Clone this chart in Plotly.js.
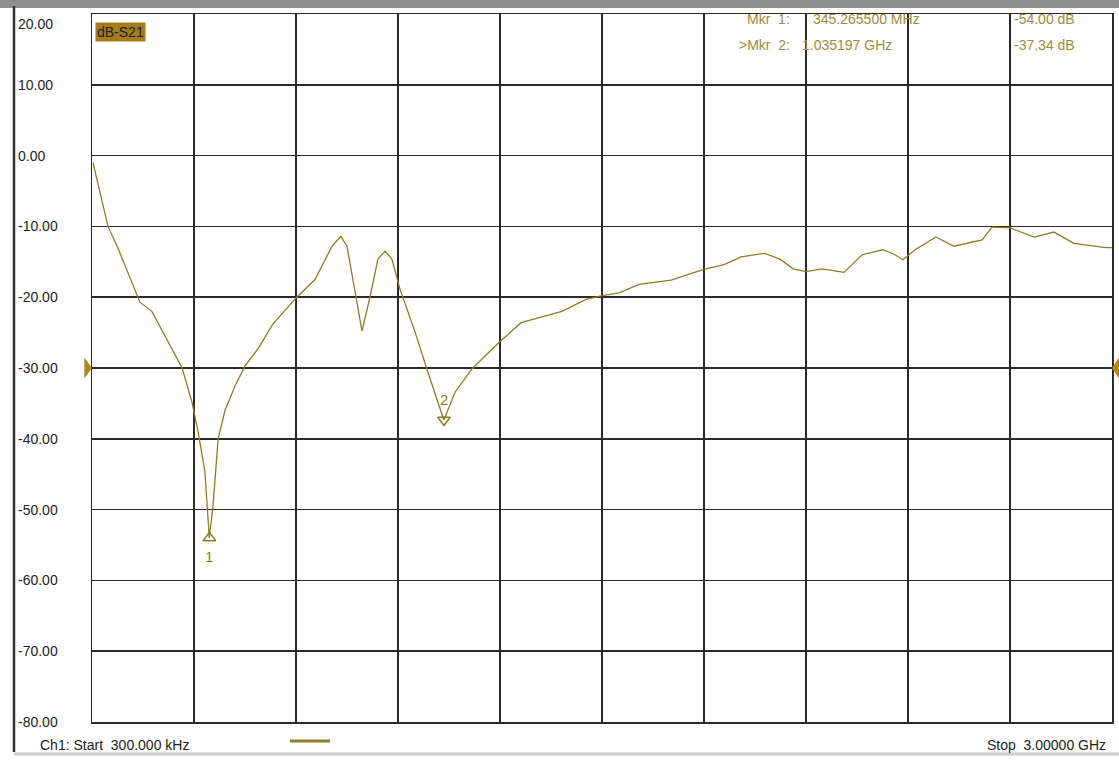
<!DOCTYPE html>
<html><head><meta charset="utf-8">
<script src="https://cdn.plot.ly/plotly-3.0.1.min.js"></script>
<style>html,body{margin:0;padding:0;background:#fff}</style>
</head><body><div id="c" style="width:1119px;height:763px"></div>
<script>
const freqGHz = [0.003,0.047,0.074,0.141,0.176,0.215,0.265,0.294,0.312,0.332,0.345,0.356,0.371,0.391,0.421,0.45,0.488,0.532,0.6,0.656,0.706,0.732,0.75,0.774,0.794,0.818,0.841,0.862,0.882,0.906,0.95,0.988,1.035,1.068,1.118,1.156,1.197,1.262,1.312,1.382,1.453,1.497,1.55,1.609,1.703,1.797,1.859,1.909,1.979,2.026,2.062,2.1,2.147,2.212,2.265,2.326,2.362,2.385,2.421,2.482,2.535,2.618,2.647,2.7,2.771,2.829,2.888,2.982,3.0];
const s21dB = [-1,-10,-12.8,-20.7,-22,-25.5,-30,-34.8,-39,-44.6,-54,-49.4,-40,-36,-32.5,-29.7,-27.3,-23.8,-20.1,-17.5,-12.8,-11.4,-12.8,-19.3,-24.8,-19.9,-14.6,-13.5,-14.6,-18.9,-24.9,-30.6,-37.34,-33.4,-30.1,-28.3,-26.4,-23.6,-22.9,-22,-20.3,-19.8,-19.4,-18.2,-17.6,-16.1,-15.4,-14.3,-13.8,-14.7,-16,-16.4,-16,-16.5,-14,-13.3,-14,-14.7,-13.3,-11.5,-12.8,-11.9,-10.1,-10.2,-11.5,-10.8,-12.4,-13,-13];
const markerFreq = [0.3452655, 1.035197];
const markerDB = [-54.00, -37.34];
const yTicks = [20,10,0,-10,-20,-30,-40,-50,-60,-70,-80];

const col = '#8f7d22';
const txt = '#a08c3a';
const F = 'Liberation Sans, Arial';
const px = p => (p-92)/1020;
const py = p => 1-(p-14)/708;
const ann = yTicks.map(v => ({
  xref:'paper', yref:'y', x:px(16), y:v, xanchor:'left', yanchor: v===20?'top':'middle',
  text:v.toFixed(2), showarrow:false, font:{family:F, size:14, color:'#222'}
}));
ann.push({xref:'paper',yref:'paper',x:px(95),y:py(22),xanchor:'left',yanchor:'top',text:'dB-S21',showarrow:false,
  bgcolor:'#a57c1b',font:{family:F,size:14,color:'#222'},borderpad:1});
ann.push({xref:'x',yref:'y',x:markerFreq[0],y:markerDB[0],yshift:-19,text:'1',showarrow:false,font:{family:F,size:15,color:col}});
ann.push({xref:'x',yref:'y',x:markerFreq[1],y:markerDB[1],yshift:20,text:'2',showarrow:false,font:{family:F,size:15,color:col}});
const rows = [['Mkr  1:','345.265500 MHz','-54.00 dB',19,'left',811],['>Mkr  2:','1.035197 GHz','-37.34 dB',45,'right',894]];
rows.forEach(r=>{
  const yy = py(r[3]);
  ann.push({xref:'paper',yref:'paper',x:px(792),y:yy,xanchor:'right',yanchor:'middle',text:r[0],showarrow:false,font:{family:F,size:14,color:txt}});
  ann.push({xref:'paper',yref:'paper',x:px(r[5]),y:yy,xanchor:r[4],yanchor:'middle',text:r[1],showarrow:false,font:{family:F,size:14,color:txt}});
  ann.push({xref:'paper',yref:'paper',x:px(1012),y:yy,xanchor:'left',yanchor:'middle',text:r[2],showarrow:false,font:{family:F,size:14,color:txt}});
});
ann.push({xref:'paper',yref:'paper',x:px(38),y:py(745),xanchor:'left',yanchor:'middle',text:'Ch1: Start  300.000 kHz',showarrow:false,font:{family:F,size:14,color:'#222'}});
ann.push({xref:'paper',yref:'paper',x:px(1108),y:py(745),xanchor:'right',yanchor:'middle',text:'Stop  3.00000 GHz',showarrow:false,font:{family:F,size:14,color:'#222'}});

const shapes = [
  {type:'line',xref:'paper',yref:'paper',x0:px(290),x1:px(330),y0:py(741),y1:py(741),line:{color:col,width:3}},
  {type:'rect',xref:'paper',yref:'paper',x0:px(0),x1:px(1119),y0:py(0),y1:py(8),fillcolor:'#8e8e8e',line:{width:0},layer:'below'},
  {type:'line',xref:'paper',yref:'paper',x0:px(14),x1:px(14),y0:py(752),y1:py(6),line:{color:'#333',width:2.5}},
  {type:'line',xref:'paper',yref:'paper',x0:px(14),x1:px(1119),y0:py(754),y1:py(754),line:{color:'#ccc',width:3}},
  {type:'path',xref:'paper',yref:'y',path:'M -0.0075,-28.5 L 0,-30 L -0.0075,-31.5 Z',fillcolor:'#b8860b',line:{width:0}},
  {type:'path',xref:'paper',yref:'y',path:'M 1.007,-28.5 L 1,-30 L 1.007,-31.5 Z',fillcolor:'#b8860b',line:{width:0}}
];

Plotly.newPlot('c',[
  {x:freqGHz,y:s21dB,type:'scatter',mode:'lines',line:{color:col,width:1.3},hoverinfo:'skip'},
  {x:[markerFreq[0]],y:[markerDB[0]],mode:'markers',marker:{symbol:'triangle-up-open',size:11,color:col,line:{width:1.5,color:col}}},
  {x:[markerFreq[1]],y:[markerDB[1]],mode:'markers',marker:{symbol:'triangle-down-open',size:11,color:col,line:{width:1.5,color:col}}}
],{
  width:1119,height:763,margin:{l:92,r:7,t:14,b:41},showlegend:false,
  paper_bgcolor:'#fff',plot_bgcolor:'#fff',
  xaxis:{range:[0,3],dtick:0.3,tick0:0,showticklabels:false,showgrid:true,gridcolor:'#2a2a2a',gridwidth:1.5,zeroline:false,showline:true,mirror:true,linecolor:'#2a2a2a',linewidth:1.5,ticks:''},
  yaxis:{range:[-80,20],dtick:10,showticklabels:false,showgrid:true,gridcolor:'#2a2a2a',gridwidth:1.5,zeroline:false,showline:true,mirror:true,linecolor:'#2a2a2a',linewidth:1.5,ticks:''},
  annotations:ann,shapes:shapes
},{staticPlot:true});
</script></body></html>
